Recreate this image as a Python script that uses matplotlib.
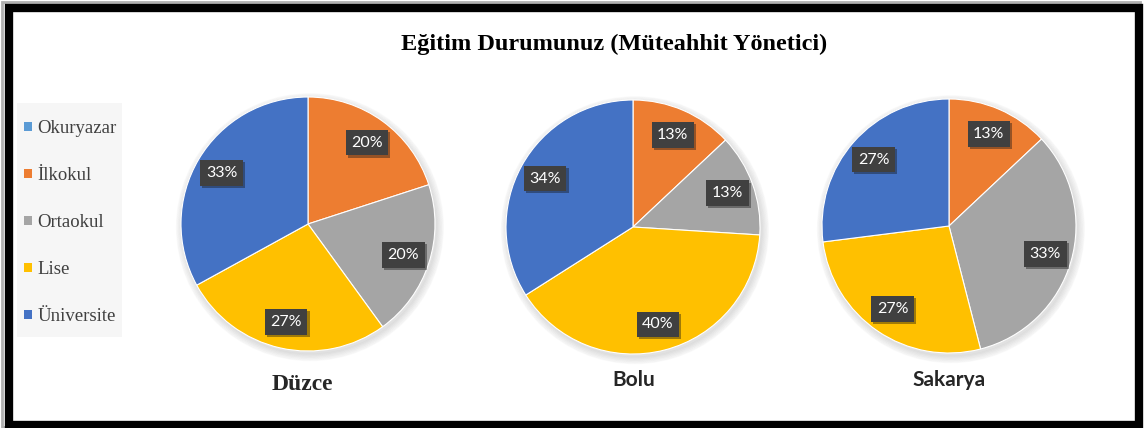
import matplotlib
matplotlib.use("Agg")
from matplotlib import pyplot as plt
from matplotlib.patches import Rectangle, Patch, Circle
import matplotlib.patheffects as pe

categories = ["Okuryazar", "İlkokul", "Ortaokul", "Lise", "Üniversite"]
colors = ["#5B9BD5", "#ED7D31", "#A5A5A5", "#FFC000", "#4472C4"]
cities = ["Düzce", "Bolu", "Sakarya"]
duzce = [0, 20, 20, 27, 33]
bolu = [0, 13, 13, 40, 34]
sakarya = [0, 13, 33, 27, 27]
values = [duzce, bolu, sakarya]

W, H = 1144, 428
fig = plt.figure(figsize=(W / 100, H / 100), dpi=100)
fig.patch.set_facecolor("white")

def fx(x):
    return x / W

def fy(y):
    return 1 - y / H

# frame with a soft gray shadow
fig.add_artist(Rectangle((fx(2), fy(427)), fx(1140) - fx(2), fy(2) - fy(427),
                         transform=fig.transFigure, fill=False, ec="#b0b0b0", lw=2))
fig.add_artist(Rectangle((fx(8.5), fy(425)), fx(1138.5) - fx(8.5), fy(8) - fy(425),
                         transform=fig.transFigure, fill=False, ec="black", lw=6))

fig.text(fx(614), fy(44), "Eğitim Durumunuz (Müteahhit Yönetici)", ha="center", va="center",
         family="Liberation Serif", weight="bold", fontsize=17.5)

centers = [(308, 224), (633, 227), (949, 226)]
r = 127
label_pos = [(302, 384), (634, 380), (949, 380)]
label_fonts = [dict(family="Liberation Serif", fontsize=17),
               dict(family="Lato", fontsize=15),
               dict(family="Lato", fontsize=15)]

def fmt(p):
    return f"{p:.0f}%" if p > 0.5 else ""

for (cx, cy), vals, city, (lx, ly), lf in zip(centers, values, cities, label_pos, label_fonts):
    ax = fig.add_axes([fx(cx - r), fy(cy + r), 2 * r / W, 2 * r / H])
    # soft shadow
    for k in range(6):
        ax.add_patch(Circle((0.015, -0.025), 1 + 0.01 * k, color="#000000", alpha=0.018,
                            clip_on=False, zorder=0))
    wedges, texts, autotexts = ax.pie(vals, colors=colors, startangle=90, counterclock=False,
                                      autopct=fmt, pctdistance=0.79,
                                      wedgeprops=dict(edgecolor="white", linewidth=0.8))
    for w in wedges:
        w.set_zorder(2)
    for t in autotexts:
        t.set_color("white")
        t.set_family("Lato")
        t.set_fontsize(11.5)
        t.set_zorder(3)
        t.set_bbox(dict(boxstyle="square,pad=0.35", fc="#404040", ec="none"))
        t.get_bbox_patch().set_path_effects([pe.SimplePatchShadow(offset=(1.5, -1.5), alpha=0.4),
                                             pe.Normal()])
    ax.set_xlim(-1, 1)
    ax.set_ylim(-1, 1)
    ax.set_aspect("equal")
    ax.axis("off")
    fig.text(fx(lx), fy(ly), city, ha="center", va="center", weight="bold", color="#262626", **lf)

# legend background box
fig.add_artist(Rectangle((fx(17), fy(337)), fx(122) - fx(17), fy(103) - fy(337),
                         transform=fig.transFigure, fc="#f6f6f6", ec="none"))
handles = [Patch(facecolor=c, edgecolor="none") for c in colors]
leg = fig.legend(handles, categories, loc="upper left", bbox_to_anchor=(fx(24), fy(120)),
                 bbox_transform=fig.transFigure, borderaxespad=0, frameon=False, borderpad=0,
                 prop=dict(family="Liberation Serif", size=13.5), labelspacing=1.6,
                 handlelength=0.4, handleheight=0.4, handletextpad=0.3)
for t in leg.get_texts():
    t.set_color("#404040")

fig.savefig("out.png", dpi=100)
